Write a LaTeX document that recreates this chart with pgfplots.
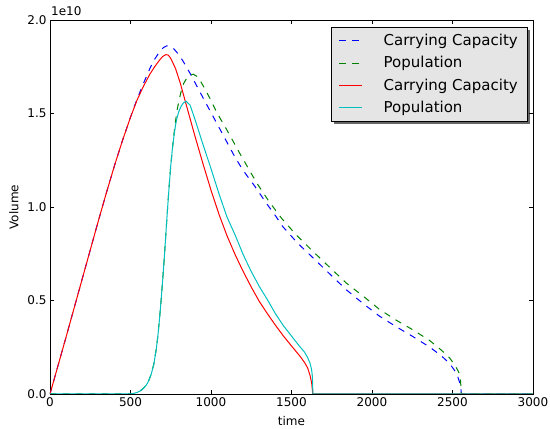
\documentclass[border=0pt]{standalone}
\usepackage{pgfplots}
\pgfplotsset{compat=1.18}
\usepackage{fontspec}
\setmainfont{DejaVu Sans}
\definecolor{mplblue}{HTML}{0000FF}
\definecolor{mplgreen}{HTML}{008000}
\definecolor{mplred}{HTML}{FF0000}
\definecolor{mplcyan}{HTML}{00BFBF}
\definecolor{legendgray}{HTML}{E5E5E5}
\pgfdeclarelayer{background}
\pgfsetlayers{background,main}
\begin{document}
\begin{tikzpicture}
\useasboundingbox (-50pt,-35pt) rectangle (500pt,394pt);
\begin{axis}[
  at={(0pt,0pt)}, anchor=south west,
  scale only axis, width=483pt, height=374pt,
  xmin=0, xmax=3000, ymin=0, ymax=2.0,
  xtick={0,500,1000,1500,2000,2500,3000},
  ytick={0,0.5,1.0,1.5,2.0},
  tick align=inside, major tick length=4pt,
  axis line style={line width=0.8pt},
  every tick/.style={black, line width=0.6pt},
  ticklabel style={font=\fontsize{12}{14}\selectfont},
  /pgf/number format/assume math mode=true,
  xticklabel style={/pgf/number format/1000 sep={}},
  yticklabel style={/pgf/number format/fixed, /pgf/number format/fixed zerofill, /pgf/number format/precision=1},
  scaled y ticks=false, scaled x ticks=false,
  xlabel={time}, ylabel={Volume},
  every axis x label/.style={at={(axis description cs:0.5,0)}, anchor=center, yshift=-27pt, font=\fontsize{12}{14}\selectfont},
  every axis y label/.style={at={(axis description cs:0,0.5)}, rotate=90, anchor=center, yshift=36pt, font=\fontsize{12}{14}\selectfont},
  legend style={name=leg, at={(1,1)}, anchor=north east, xshift=-6pt, yshift=-7pt,
    fill=none, draw=none,
    font=\fontsize{15}{18}\selectfont, inner xsep=7pt, inner ysep=5pt, row sep=5.5pt, column sep=19pt},
  legend cell align=left,
]
% Carrying Capacity (dashed)
\addplot[color=mplblue, line width=1pt, dash pattern=on 6.5pt off 6.5pt,
  legend image code/.code={\draw[mplblue, line width=1pt, dash pattern=on 6.5pt off 6.5pt] (0pt,0pt) -- (23pt,0pt);}] coordinates {
(0,0) (100,0.305) (200,0.615) (300,0.925) (350,1.075) (400,1.22) (450,1.355) (500,1.48)
(540,1.575) (580,1.66) (620,1.74) (650,1.79) (680,1.83) (705,1.853) (726,1.862) (745,1.86)
(770,1.845) (800,1.815) (830,1.775) (870,1.715) (910,1.65) (950,1.585) (1000,1.505)
(1050,1.425) (1100,1.345) (1150,1.265) (1200,1.195) (1273,1.11) (1340,1.025) (1407,0.945)
(1446,0.895) (1540,0.805) (1634,0.728) (1740,0.64) (1841,0.557) (1950,0.48) (2047,0.416)
(2150,0.36) (2254,0.307) (2360,0.25) (2430,0.205) (2480,0.165) (2510,0.13) (2530,0.10)
(2545,0.06) (2552,0.03) (2555,0) (3000,0)};
\addlegendentry{Carrying Capacity}
% Population (dashed)
\addplot[color=mplgreen, line width=1pt, dash pattern=on 6.5pt off 6.5pt,
  legend image code/.code={\draw[mplgreen, line width=1pt, dash pattern=on 6.5pt off 6.5pt] (0pt,0pt) -- (23pt,0pt);}] coordinates {
(0,0) (500,0.0) (520,0.003) (540,0.008) (560,0.016) (580,0.03) (600,0.05) (615,0.075)
(630,0.11) (645,0.16) (660,0.24) (670,0.31) (680,0.40) (690,0.50) (700,0.61) (710,0.73)
(720,0.86) (730,0.99) (740,1.11) (750,1.22) (760,1.31) (770,1.39) (780,1.46) (790,1.52)
(800,1.565) (815,1.62) (830,1.66) (850,1.69) (870,1.705) (890,1.71) (910,1.70) (930,1.68)
(960,1.635) (1000,1.57) (1036,1.505) (1100,1.41) (1180,1.285) (1283,1.13) (1360,1.03)
(1438,0.94) (1530,0.85) (1634,0.762) (1740,0.675) (1841,0.593) (1950,0.52) (2047,0.452)
(2150,0.395) (2254,0.343) (2360,0.285) (2430,0.235) (2480,0.195) (2515,0.155) (2540,0.115)
(2550,0.07) (2555,0) (3000,0)};
\addlegendentry{Population}
% Carrying Capacity (solid)
\addplot[color=mplred, line width=1pt,
  legend image code/.code={\draw[mplred, line width=1pt] (0pt,0pt) -- (23pt,0pt);}] coordinates {
(0,0) (100,0.305) (200,0.615) (300,0.925) (350,1.075) (400,1.22) (450,1.355) (500,1.48)
(540,1.57) (580,1.645) (620,1.71) (650,1.75) (680,1.785) (700,1.805) (720,1.815) (735,1.812)
(750,1.795) (780,1.74) (810,1.66) (850,1.535) (900,1.38) (950,1.232) (1000,1.09)
(1050,0.96) (1100,0.845) (1150,0.745) (1200,0.655) (1250,0.572) (1300,0.495) (1350,0.43)
(1400,0.368) (1450,0.31) (1500,0.257) (1550,0.205) (1580,0.17) (1600,0.14) (1615,0.10)
(1625,0.06) (1630,0.02) (1632,0) (3000,0)};
\addlegendentry{Carrying Capacity}
% Population (solid)
\addplot[color=mplcyan, line width=1pt,
  legend image code/.code={\draw[mplcyan, line width=1pt] (0pt,0pt) -- (23pt,0pt);}] coordinates {
(0,0) (500,0.0) (520,0.003) (540,0.008) (560,0.016) (580,0.03) (600,0.05) (615,0.075)
(630,0.11) (645,0.16) (660,0.24) (670,0.31) (680,0.40) (690,0.50) (700,0.61) (710,0.73)
(720,0.86) (730,0.99) (740,1.11) (750,1.22) (760,1.31) (770,1.38) (780,1.44) (790,1.48)
(800,1.51) (815,1.54) (830,1.558) (846,1.565) (870,1.545) (900,1.47) (950,1.335)
(1000,1.205) (1050,1.07) (1100,0.945) (1150,0.85) (1200,0.745) (1250,0.655) (1300,0.575)
(1350,0.505) (1400,0.43) (1450,0.365) (1500,0.31) (1550,0.255) (1580,0.225) (1600,0.195)
(1615,0.165) (1625,0.13) (1630,0.09) (1633,0) (3000,0)};
\addlegendentry{Population}
\end{axis}
\begin{pgfonlayer}{background}
\fill[black!60] ([shift={(3pt,-3pt)}]leg.south west) rectangle ([shift={(3pt,-3pt)}]leg.north east);
\filldraw[fill=legendgray, draw=black, line width=0.8pt] (leg.south west) rectangle (leg.north east);
\end{pgfonlayer}
\node[anchor=base west, inner sep=0pt, font=\fontsize{12}{14}\selectfont] at ([xshift=1pt, yshift=4pt]current axis.north west) {1e10};
\end{tikzpicture}
\end{document}
